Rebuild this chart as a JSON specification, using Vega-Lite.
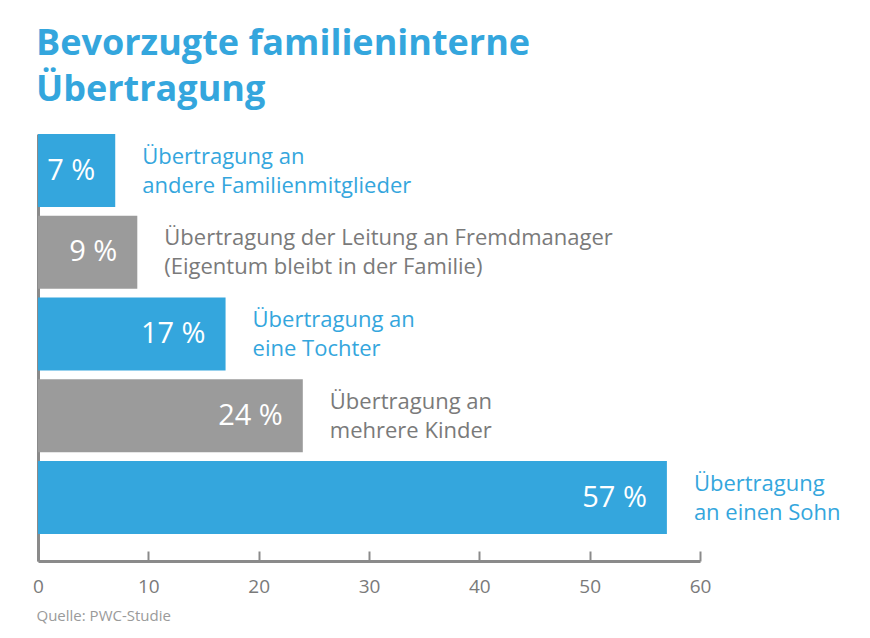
{
  "$schema": "https://vega.github.io/schema/vega-lite/v6.json",
  "autosize": "none",
  "width": 662,
  "height": 427,
  "padding": {"left": 38, "top": 134, "right": 170, "bottom": 77},
  "background": "white",
  "title": {
    "text": "Bevorzugte familieninterne",
    "subtitle": "Übertragung",
    "anchor": "start",
    "frame": "group",
    "dx": -2,
    "offset": 25,
    "font": "Open Sans",
    "fontSize": 36,
    "fontWeight": "bold",
    "color": "#34a6dd",
    "subtitleFont": "Open Sans",
    "subtitleFontSize": 36,
    "subtitleFontWeight": "bold",
    "subtitleColor": "#34a6dd",
    "subtitlePadding": 10
  },
  "config": {
    "view": {"stroke": null},
    "font": "Open Sans"
  },
  "data": {
    "values": [
      {"rank": 1, "value": 7, "group": "blau", "label": "Übertragung an\nandere Familienmitglieder"},
      {"rank": 2, "value": 9, "group": "grau", "label": "Übertragung der Leitung an Fremdmanager\n(Eigentum bleibt in der Familie)"},
      {"rank": 3, "value": 17, "group": "blau", "label": "Übertragung an\neine Tochter"},
      {"rank": 4, "value": 24, "group": "grau", "label": "Übertragung an\nmehrere Kinder"},
      {"rank": 5, "value": 57, "group": "blau", "label": "Übertragung\nan einen Sohn"}
    ]
  },
  "encoding": {
    "y": {
      "field": "rank",
      "type": "ordinal",
      "scale": {"paddingInner": 0.107, "paddingOuter": 0.165, "align": 0},
      "axis": {
        "labels": false,
        "ticks": false,
        "title": null,
        "domainColor": "#8a8a8a",
        "domainWidth": 3
      }
    },
    "x": {
      "field": "value",
      "type": "quantitative",
      "scale": {"domain": [0, 60], "nice": false},
      "axis": {
        "values": [0, 10, 20, 30, 40, 50, 60],
        "grid": false,
        "domainColor": "#8a8a8a",
        "domainWidth": 3,
        "tickColor": "#8a8a8a",
        "tickWidth": 2,
        "tickSize": -10,
        "labelPadding": 26,
        "labelFontSize": 19,
        "labelColor": "#7a7a7a",
        "labelFlush": false,
        "title": "Quelle: PWC-Studie",
        "titleAnchor": "start",
        "titleAlign": "left",
        "titleX": -2,
        "titleFontSize": 15,
        "titleFontWeight": "normal",
        "titleColor": "#9a9a9a",
        "titlePadding": 12
      }
    },
    "color": {
      "field": "group",
      "type": "nominal",
      "scale": {"domain": ["blau", "grau"], "range": ["#34a6dd", "#9b9b9b"]},
      "legend": null
    }
  },
  "layer": [
    {"mark": {"type": "bar"}},
    {
      "transform": [{"calculate": "datum.value + ' %'", "as": "prozent"}],
      "mark": {"type": "text", "align": "right", "dx": -20, "fontSize": 29, "fontWeight": 500},
      "encoding": {
        "text": {"field": "prozent", "type": "nominal"},
        "color": {"value": "white"}
      }
    },
    {
      "mark": {"type": "text", "align": "left", "dx": 27, "dy": -14, "fontSize": 22, "lineHeight": 29, "lineBreak": "\n"},
      "encoding": {
        "text": {"field": "label", "type": "nominal"},
        "color": {
          "field": "group",
          "type": "nominal",
          "scale": {"domain": ["blau", "grau"], "range": ["#34a6dd", "#7a7a7a"]},
          "legend": null
        }
      }
    }
  ],
  "resolve": {"scale": {"color": "independent"}}
}
